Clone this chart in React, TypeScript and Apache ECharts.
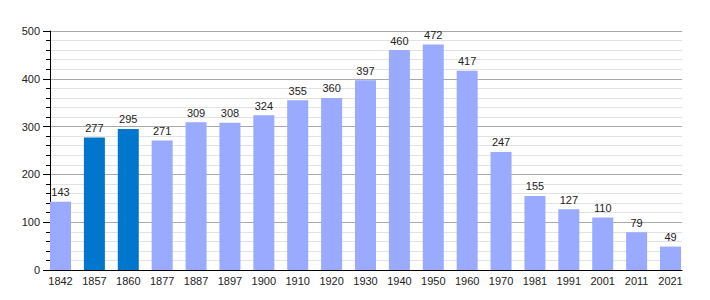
import React, { useEffect, useRef } from "react";
import * as echarts from "echarts";

const years = ["1842","1857","1860","1877","1887","1897","1900","1910","1920","1930","1940","1950","1960","1970","1981","1991","2001","2011","2021"];
const population = [143,277,295,271,309,308,324,355,360,397,460,472,417,247,155,127,110,79,49];
const highlighted = ["1857","1860"];

const LIGHT = "#99AAFF";
const DARK = "#0077CC";
const FONT = "Liberation Sans, Arial, sans-serif";

export default function App() {
  const ref = useRef<HTMLDivElement>(null);
  useEffect(() => {
    const chart = echarts.init(ref.current!, null, { renderer: "svg" });
    chart.setOption({
      animation: false,
      grid: [
        { left: 50, right: 28, top: 31, bottom: 30 },
        { left: 60.5, right: 39.5, top: 31, bottom: 30 },
      ],
      xAxis: [
        {
          gridIndex: 0, type: "category", data: years,
          axisLine: { lineStyle: { color: "#000", width: 1 } },
          axisTick: { show: false }, axisLabel: { show: false }, splitLine: { show: false },
        },
        {
          gridIndex: 1, type: "category", data: years, boundaryGap: false,
          axisLine: { show: false }, axisTick: { show: false },
          axisLabel: { color: "#222", fontSize: 11, fontFamily: FONT, margin: 5, interval: 0 },
        },
      ],
      yAxis: [
        {
          gridIndex: 0, type: "value", min: 0, max: 500, interval: 100,
          axisLine: { show: true, lineStyle: { color: "#000", width: 1 } },
          axisTick: { show: true, length: 7, lineStyle: { color: "#000" } },
          minorTick: { show: true, splitNumber: 5, length: 4, lineStyle: { color: "#000" } },
          splitLine: { show: true, lineStyle: { color: "#aaaaaa", width: 1 } },
          minorSplitLine: { show: true, lineStyle: { color: "#e2e2e2", width: 1 } },
          axisLabel: { color: "#222", fontSize: 11, fontFamily: FONT, margin: 10 },
        },
        {
          gridIndex: 1, type: "value", min: 0, max: 500, interval: 100, show: false,
          splitLine: { show: false },
        },
      ],
      series: [
        {
          type: "bar", xAxisIndex: 1, yAxisIndex: 1, barWidth: 21,
          data: population.map((v, i) => ({
            value: v,
            itemStyle: { color: highlighted.includes(years[i]) ? DARK : LIGHT },
          })),
          label: { show: true, position: "top", distance: 4, color: "#222", fontSize: 11, fontFamily: FONT },
        },
      ],
    });
    return () => chart.dispose();
  }, []);
  return <div ref={ref} style={{ width: 710, height: 300, position: "absolute", left: 0, top: 0, background: "#fff" }} />;
}
